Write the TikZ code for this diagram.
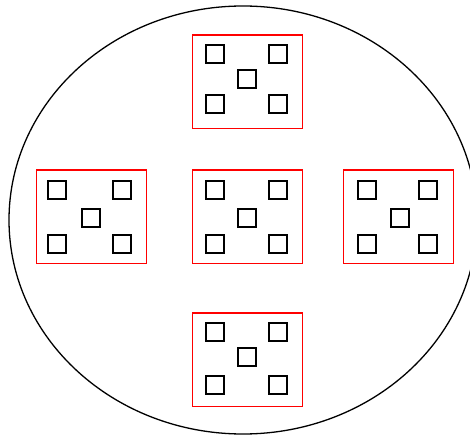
\documentclass[tikz,border=0pt]{standalone}
\usetikzlibrary{shapes.geometric}
\begin{document}
\begin{tikzpicture}[x=1pt,y=-1pt,
  redbox/.style={draw=red,line width=1.5pt,minimum width=110pt,minimum height=93.5pt,inner sep=0pt,outer sep=0pt},
  smallsq/.style={draw=black,line width=1.7pt,minimum size=18pt,inner sep=0pt,outer sep=0pt},
  outerell/.style={ellipse,draw=black,line width=1.3pt,minimum width=468pt,minimum height=428pt,inner sep=0pt}]
\useasboundingbox (0,0) rectangle (470,435);
\clip (0,0) rectangle (470,435);
\node[outerell] (outer) at (243,220) {};
% red boxes
\node[redbox] (btop) at (247.7,82) {};
\node[redbox] (bleft) at (91.5,216.7) {};
\node[redbox] (bcenter) at (247.7,216.7) {};
\node[redbox] (bright) at (398.3,216.7) {};
\node[redbox] (bbottom) at (247.7,359.8) {};
% top box squares
\node[smallsq] (t1) at (215,53.7) {};
\node[smallsq] (t2) at (278,53.7) {};
\node[smallsq] (t3) at (247,79.3) {};
\node[smallsq] (t4) at (215,103.7) {};
\node[smallsq] (t5) at (278,103.7) {};
% left box squares
\node[smallsq] (l1) at (56.7,190.2) {};
\node[smallsq] (l2) at (121.7,190.2) {};
\node[smallsq] (l3) at (90.8,218.3) {};
\node[smallsq] (l4) at (56.7,243.7) {};
\node[smallsq] (l5) at (121.7,243.7) {};
% center box squares
\node[smallsq] (c1) at (215,190.2) {};
\node[smallsq] (c2) at (278,190.2) {};
\node[smallsq] (c3) at (247,218.3) {};
\node[smallsq] (c4) at (215,243.7) {};
\node[smallsq] (c5) at (278,243.7) {};
% right box squares
\node[smallsq] (r1) at (366.7,190.2) {};
\node[smallsq] (r2) at (427.8,190.2) {};
\node[smallsq] (r3) at (399.7,218.3) {};
\node[smallsq] (r4) at (366.7,243.7) {};
\node[smallsq] (r5) at (427.8,243.7) {};
% bottom box squares
\node[smallsq] (d1) at (215,331.7) {};
\node[smallsq] (d2) at (278,331.7) {};
\node[smallsq] (d3) at (247,356.7) {};
\node[smallsq] (d4) at (215,385) {};
\node[smallsq] (d5) at (278,385) {};
\end{tikzpicture}
\end{document}
